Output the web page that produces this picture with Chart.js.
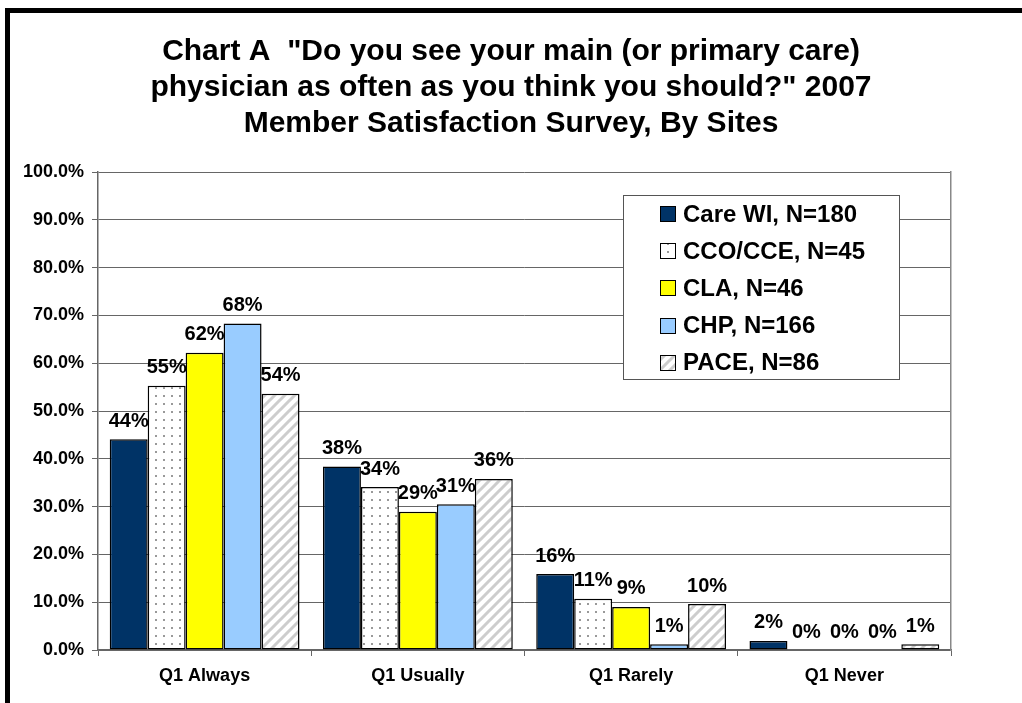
<!DOCTYPE html>
<html>
<head>
<meta charset="utf-8">
<script src="https://cdn.jsdelivr.net/npm/chart.js@4/dist/chart.umd.min.js"></script>
<style>
  html, body { margin: 0; padding: 0; background: #fff; }
  #wrap { position: relative; width: 1022px; height: 703px; overflow: hidden; }
  #frame {
    position: absolute; left: 5px; top: 8px; width: 1100px; height: 800px;
    border-left: 5px solid #000; border-top: 5px solid #000; pointer-events: none;
  }
  canvas { position: absolute; left: 0; top: 0; }
</style>
</head>
<body>
<div id="wrap">
  <canvas id="chart" width="1022" height="703"></canvas>
  <div id="frame"></div>
</div>
<script>
const categories = ['Q1 Always', 'Q1 Usually', 'Q1 Rarely', 'Q1 Never'];
const seriesNames = ['Care WI, N=180', 'CCO/CCE, N=45', 'CLA, N=46', 'CHP, N=166', 'PACE, N=86'];
const careWI = [44.1, 38.4, 15.9, 1.9];
const ccoCce = [55.3, 34.1, 10.7, 0];
const cla = [62.2, 28.9, 9.0, 0];
const chp = [68.3, 30.5, 1.2, 0];
const pace = [53.6, 35.8, 9.6, 1.2];
const titleLines = [
  'Chart A  "Do you see your main (or primary care)',
  'physician as often as you think you should?" 2007',
  'Member Satisfaction Survey, By Sites'
];

const FONT = "'Liberation Sans', Arial, sans-serif";

function dotPattern() {
  const c = document.createElement('canvas');
  c.width = 8; c.height = 8;
  const g = c.getContext('2d');
  g.fillStyle = '#fff';
  g.fillRect(0, 0, 8, 8);
  g.fillStyle = '#999';
  g.fillRect(3, 3, 2, 2);
  return g.createPattern(c, 'repeat');
}

function stripePattern() {
  const c = document.createElement('canvas');
  c.width = 10; c.height = 10;
  const g = c.getContext('2d');
  g.fillStyle = '#fff';
  g.fillRect(0, 0, 10, 10);
  g.strokeStyle = '#cdcdcd';
  g.lineWidth = 3;
  g.beginPath();
  g.moveTo(-5, 5); g.lineTo(5, -5);
  g.moveTo(0, 10); g.lineTo(10, 0);
  g.moveTo(5, 15); g.lineTo(15, 5);
  g.stroke();
  return g.createPattern(c, 'repeat');
}

const fills = ['#003366', dotPattern(), '#ffff00', '#99ccff', stripePattern()];
const values = [careWI, ccoCce, cla, chp, pace];

// percentage labels above each bar
const barLabels = {
  id: 'barLabels',
  afterDatasetsDraw(chart) {
    const ctx = chart.ctx;
    ctx.save();
    ctx.font = 'bold 20px ' + FONT;
    ctx.fillStyle = '#000';
    ctx.textAlign = 'center';
    ctx.textBaseline = 'middle';
    chart.data.datasets.forEach((ds, i) => {
      chart.getDatasetMeta(i).data.forEach((bar, j) => {
        ctx.fillText(Math.round(ds.data[j]) + '%', bar.x, bar.y - 18);
      });
    });
    ctx.restore();
  }
};

// boxed legend sitting inside the plot area
const boxLegend = {
  id: 'boxLegend',
  afterDraw(chart) {
    const ctx = chart.ctx;
    ctx.save();
    ctx.fillStyle = '#fff';
    ctx.fillRect(623, 195, 276, 184);
    ctx.strokeStyle = '#555';
    ctx.lineWidth = 1;
    ctx.strokeRect(623.5, 195.5, 276, 184);
    ctx.font = 'bold 24px ' + FONT;
    ctx.textBaseline = 'middle';
    ctx.textAlign = 'left';
    chart.data.datasets.forEach((ds, i) => {
      const yc = 214 + i * 37.2;
      ctx.fillStyle = ds.backgroundColor;
      ctx.fillRect(660, Math.round(yc - 8), 16, 16);
      ctx.strokeStyle = '#000';
      ctx.strokeRect(660.5, Math.round(yc - 8) + 0.5, 15, 15);
      ctx.fillStyle = '#000';
      ctx.fillText(ds.label, 683, yc + 1);
    });
    ctx.restore();
  }
};

new Chart(document.getElementById('chart'), {
  type: 'bar',
  data: {
    labels: categories,
    datasets: seriesNames.map((name, i) => ({
      label: name,
      data: values[i],
      backgroundColor: fills[i],
      borderColor: '#000',
      borderWidth: 1.5,
      borderSkipped: false,
      categoryPercentage: 0.89,
      barPercentage: 1.0
    }))
  },
  options: {
    responsive: false,
    animation: false,
    layout: { padding: 0 },
    plugins: {
      legend: { display: false },
      tooltip: { enabled: false },
      title: {
        display: true,
        text: titleLines,
        color: '#000',
        font: { family: FONT, size: 30, weight: 'bold', lineHeight: 36 / 30 },
        padding: { top: 34, bottom: 30 }
      }
    },
    scales: {
      x: {
        grid: { display: true, drawOnChartArea: false, drawTicks: true, tickLength: 6, offset: true, color: '#666' },
        border: { display: true, color: '#666', width: 1.5 },
        ticks: { color: '#000', padding: 9, font: { family: FONT, size: 18, weight: 'bold' } },
        afterFit(scale) { scale.height = 53; }
      },
      y: {
        min: 0,
        max: 100,
        grid: { color: '#666', tickLength: 6, lineWidth: 1 },
        border: { display: true, color: '#666', width: 1.5 },
        ticks: {
          stepSize: 10,
          color: '#000',
          padding: 8,
          font: { family: FONT, size: 18, weight: 'bold' },
          callback: (v) => v.toFixed(1) + '%'
        },
        afterFit(scale) { scale.width = 98; }
      },
      yRight: {
        position: 'right',
        min: 0,
        max: 100,
        grid: { display: false },
        ticks: { display: false },
        border: { display: true, color: '#888', width: 1.5 },
        afterFit(scale) { scale.width = 71; }
      }
    }
  },
  plugins: [barLabels, boxLegend]
});
</script>
</body>
</html>
